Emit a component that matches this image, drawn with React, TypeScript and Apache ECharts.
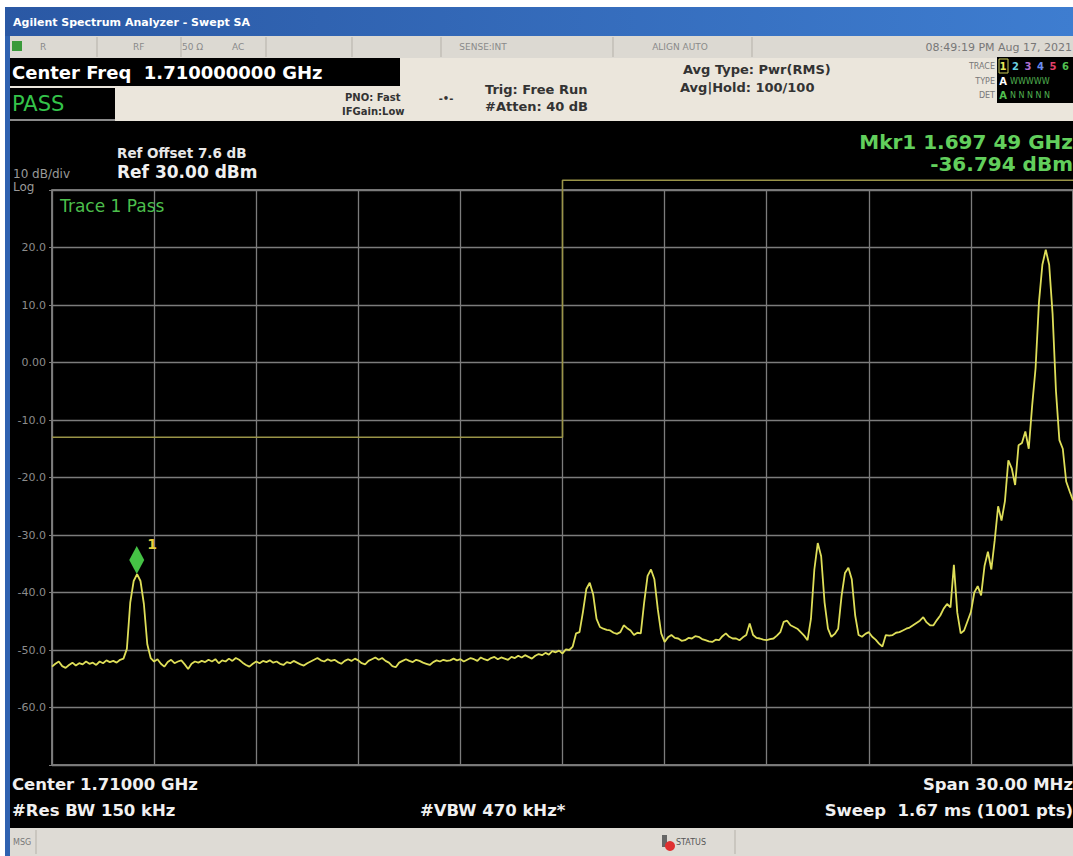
import React, { useEffect, useRef } from 'react';
import * as echarts from 'echarts';

// ---- data ----
const startMHz = 1695; // sweep start
const stepMHz = 0.1; // sample spacing of the trace below
const traceDbm = [
  -52.9, -52.4, -52.0, -52.8, -53.1, -52.6, -52.2, -52.7, -52.3, -52.5,
  -52.0, -52.4, -52.2, -52.6, -52.0, -52.3, -51.8, -52.1, -51.9, -52.2,
  -51.7, -51.5, -49.8, -41.7, -38.0, -36.8, -38.0, -42.0, -49.0, -51.4,
  -52.0, -51.6, -52.4, -52.9, -52.1, -51.7, -52.3, -52.0, -51.8, -52.5,
  -53.3, -52.4, -52.0, -52.2, -51.9, -52.1, -51.7, -52.0, -51.6, -52.3,
  -51.8, -52.0, -51.5, -51.9, -51.4, -51.7, -52.2, -52.6, -52.9, -52.4,
  -52.0, -52.3, -51.9, -52.1, -51.8, -52.2, -52.0, -52.4, -52.6, -52.1,
  -52.3, -51.9, -52.2, -52.5, -52.7, -52.3, -52.0, -51.7, -51.4, -51.8,
  -52.0, -51.6, -51.9, -51.7, -52.1, -52.4, -51.9, -51.6, -51.9, -51.5,
  -51.8, -52.3, -52.5, -51.9, -51.6, -51.3, -51.7, -51.4, -51.9, -52.2,
  -52.8, -53.0, -52.2, -51.9, -51.6, -51.9, -52.1, -51.7, -51.9, -52.2,
  -52.4, -52.6, -52.1, -51.8, -52.0, -51.7, -51.9, -51.8, -51.5, -51.8,
  -51.6, -52.0, -51.7, -51.4, -51.6, -51.9, -51.3, -51.6, -51.8, -51.4,
  -51.2, -51.6, -51.3, -51.5, -51.7, -51.2, -51.4, -51.0, -51.3, -50.9,
  -51.2, -51.5, -51.0, -50.7, -50.9, -50.5, -50.8, -50.2, -50.4, -50.1,
  -50.6, -49.9, -50.0, -49.4, -47.1, -46.9, -43.4, -39.4, -38.3, -40.3,
  -44.6, -46.0, -46.3, -46.5, -46.6, -47.0, -47.2, -46.9, -45.7, -46.2,
  -46.6, -47.4, -47.0, -47.1, -41.7, -37.1, -36.0, -37.7, -42.9, -47.1,
  -48.6, -47.8, -47.4, -47.9, -48.0, -48.4, -48.3, -47.9, -48.0, -47.6,
  -47.7, -48.1, -48.3, -48.5, -48.6, -48.2, -48.3, -47.6, -47.1, -47.7,
  -48.0, -48.0, -48.3, -47.8, -47.4, -45.4, -47.4, -47.9, -48.0, -48.2,
  -48.3, -48.1, -48.0, -47.5, -46.9, -45.1, -44.9, -45.7, -46.0, -46.3,
  -46.9, -47.5, -48.3, -44.6, -36.0, -31.4, -33.7, -41.7, -46.3, -47.7,
  -47.2, -46.3, -40.6, -36.6, -35.7, -37.7, -44.0, -47.4, -47.7, -47.2,
  -46.9, -47.7, -48.2, -48.9, -49.4, -47.4, -47.5, -47.4, -47.0, -46.9,
  -46.6, -46.3, -46.1, -45.7, -45.3, -44.9, -44.3, -45.2, -45.7, -45.7,
  -44.8, -44.0, -42.8, -42.0, -42.6, -35.2, -43.5, -47.1, -46.6, -45.0,
  -43.4, -40.0, -38.9, -40.5, -35.4, -32.9, -36.0, -30.9, -25.0, -27.5,
  -24.1, -17.0, -18.4, -21.3, -14.4, -14.0, -12.0, -15.0, -7.5, -1.0,
  10.5, 17.0, 19.6, 17.0, 8.5, -5.0, -13.5, -15.0, -20.7, -22.4,
  -24.0,
];
const limitFreqMHz = [1695, 1710, 1710, 1725];
const limitDbm = [-13, -13, 31.7, 31.7];
const markerFreqMHz = 1697.49;
const markerDbm = -36.794;
const xMin = 1695;
const xMax = 1725;
const xStep = 3;
const yMin = -70;
const yMax = 30;
const yStep = 10;
const traceNumbers = ['1', '2', '3', '4', '5', '6'];

const FONT = '"DejaVu Sans", sans-serif';

function txt(x: number, y: number, text: string, size: number, fill: string, opts: any = {}) {
  return {
    type: 'text',
    x,
    y,
    z: 100,
    style: {
      text,
      fill,
      fontSize: size,
      fontFamily: FONT,
      fontWeight: opts.bold ? 'bold' : 'normal',
      align: opts.align || 'left',
      verticalAlign: 'middle',
    },
  };
}
function box(x: number, y: number, w: number, h: number, fill: any, z = 90) {
  return { type: 'rect', z, shape: { x, y, width: w, height: h }, style: { fill } };
}
function vline(x: number, y1: number, y2: number, stroke: string) {
  return { type: 'line', z: 95, shape: { x1: x, y1, x2: x, y2 }, style: { stroke, lineWidth: 1 } };
}

export default function App() {
  const ref = useRef<HTMLDivElement>(null);
  useEffect(() => {
    const chart = echarts.init(ref.current!, undefined, { renderer: 'svg' });
    const W = 1073;
    const H = 856;
    const traceColors = ['#e6e65a', '#6ad0e0', '#b070d0', '#6a8cf0', '#e0406a', '#50c050'];
    const graphic: any[] = [
      box(0, 0, W, 7, '#ffffff'),
      box(0, 0, 5, H, '#ffffff'),
      box(5, 7, 5, H - 7, '#2f62b0'),
      box(5, 7, W - 5, 29, new echarts.graphic.LinearGradient(0, 0, 1, 0, [
        { offset: 0, color: '#2a58a4' },
        { offset: 1, color: '#3e7dd0' },
      ])),
      txt(13, 22, 'Agilent Spectrum Analyzer - Swept SA', 11, '#ffffff', { bold: true }),
      // status row
      box(10, 36, W - 10, 22, '#dcd9d2'),
      box(12, 41, 10, 10, '#3a9a3a', 96),
      ...[97, 181, 266, 352, 441, 613, 752].map((x) => vline(x, 37, 57, '#b5b1a9')),
      txt(40, 47, 'R', 9, '#8a8a8a'),
      txt(133, 47, 'RF', 9, '#8a8a8a'),
      txt(182, 47, '50 Ω', 9, '#8a8a8a'),
      txt(232, 47, 'AC', 9, '#8a8a8a'),
      txt(483, 47, 'SENSE:INT', 9, '#8a8a8a', { align: 'center' }),
      txt(680, 47, 'ALIGN AUTO', 9, '#8a8a8a', { align: 'center' }),
      txt(1072, 47, '08:49:19 PM Aug 17, 2021', 11, '#777777', { align: 'right' }),
      // settings panel
      box(10, 58, W - 10, 63, '#ebe6dc'),
      box(10, 58, 390, 28, '#000000', 91),
      txt(12, 72, 'Center Freq  1.710000000 GHz', 18, '#ffffff', { bold: true }),
      box(10, 88, 105, 31, '#000000', 91),
      box(10, 119, 105, 2, '#8a8a8a', 91),
      txt(12, 104, 'PASS', 21, '#34c34a'),
      txt(345, 97, 'PNO: Fast', 10, '#333333', { bold: true }),
      txt(342, 111, 'IFGain:Low', 10, '#333333', { bold: true }),
      txt(446, 98, '-•-', 10, '#333333', { bold: true, align: 'center' }),
      txt(485, 89, 'Trig: Free Run', 13, '#333333', { bold: true }),
      txt(485, 106, '#Atten: 40 dB', 13, '#333333', { bold: true }),
      txt(683, 69, 'Avg Type: Pwr(RMS)', 13, '#333333', { bold: true }),
      txt(680, 87, 'Avg|Hold: 100/100', 13, '#333333', { bold: true }),
      txt(995, 66, 'TRACE', 8, '#777777', { align: 'right' }),
      txt(995, 81, 'TYPE', 8, '#777777', { align: 'right' }),
      txt(995, 95, 'DET', 8, '#777777', { align: 'right' }),
      box(997, 57, 76, 46, '#000000', 91),
      { type: 'rect', z: 97, shape: { x: 999, y: 59, width: 9, height: 14 }, style: { fill: 'none', stroke: '#c8c850', lineWidth: 1 } },
      ...traceNumbers.map((t, k) => txt(1003 + k * 12.5, 66, t, 10, traceColors[k], { bold: true, align: 'center' })),
      txt(1003, 81, 'A', 10, '#ffffff', { bold: true, align: 'center' }),
      txt(1010, 81, 'WWWWW', 8, '#50b050'),
      txt(1003, 95, 'A', 10, '#50c050', { bold: true, align: 'center' }),
      txt(1010, 95, 'N N N N N', 8, '#50b050'),
      // display annotations
      txt(117, 153, 'Ref Offset 7.6 dB', 13.5, '#e8e8e8', { bold: true }),
      txt(117, 172, 'Ref 30.00 dBm', 17, '#f0f0f0', { bold: true }),
      txt(13, 174, '10 dB/div', 12, '#9a9a9a'),
      txt(13, 187, 'Log', 12, '#9a9a9a'),
      txt(60, 206, 'Trace 1 Pass', 17, '#4cbf4c'),
      txt(1073, 142, 'Mkr1 1.697 49 GHz', 20, '#62cf5c', { bold: true, align: 'right' }),
      txt(1073, 164, '-36.794 dBm', 20, '#62cf5c', { bold: true, align: 'right' }),
      txt(12, 784, 'Center 1.71000 GHz', 16.5, '#f0f0f0', { bold: true }),
      txt(12, 810, '#Res BW 150 kHz', 16.5, '#f0f0f0', { bold: true }),
      txt(420, 810, '#VBW 470 kHz*', 16.5, '#f0f0f0', { bold: true }),
      txt(1073, 784, 'Span 30.00 MHz', 16.5, '#f0f0f0', { bold: true, align: 'right' }),
      txt(1073, 810, 'Sweep  1.67 ms (1001 pts)', 16.5, '#f0f0f0', { bold: true, align: 'right' }),
      // bottom status bar
      box(10, 828, W - 10, 28, '#dedbd5'),
      vline(36, 830, 854, '#b5b1a9'),
      txt(13, 842, 'MSG', 8, '#777777'),
      box(662, 835, 5, 12, '#666666', 96),
      { type: 'circle', z: 97, shape: { cx: 670, cy: 846, r: 5 }, style: { fill: '#e03030' } },
      txt(676, 842, 'STATUS', 8, '#555555'),
      vline(735, 830, 854, '#b5b1a9'),
    ];

    const option: any = {
      animation: false,
      backgroundColor: '#000000',
      grid: {
        left: 52,
        top: 190,
        right: -2,
        bottom: 91,
        show: true,
        borderColor: '#9c9c9c',
        borderWidth: 1.5,
        backgroundColor: 'transparent',
      },
      xAxis: {
        type: 'value',
        min: xMin,
        max: xMax,
        interval: xStep,
        axisLabel: { show: false },
        axisTick: { show: false },
        axisLine: { show: false },
        splitLine: { show: true, lineStyle: { color: '#7c7c7c', width: 1.3 } },
      },
      yAxis: {
        type: 'value',
        min: yMin,
        max: yMax,
        interval: yStep,
        axisLine: { show: false },
        axisTick: { show: true, length: 3, lineStyle: { color: '#7c7c7c' } },
        splitLine: { show: true, lineStyle: { color: '#7c7c7c', width: 1.3 } },
        axisLabel: {
          color: '#8c8c8c',
          fontSize: 11,
          fontFamily: FONT,
          margin: 6,
          formatter: (v: number) => (v >= yMax || v <= yMin ? '' : v === 0 ? '0.00' : v.toFixed(1)),
        },
      },
      graphic,
      series: [
        {
          type: 'line',
          name: 'Limit',
          data: limitFreqMHz.map((f, i) => [f, limitDbm[i]]),
          symbol: 'none',
          clip: false,
          z: 4,
          lineStyle: { color: '#9a9448', width: 1.6 },
        },
        {
          type: 'line',
          name: 'Trace 1',
          data: traceDbm.map((v, i) => [+(startMHz + i * stepMHz).toFixed(2), v]),
          symbol: 'none',
          showSymbol: false,
          z: 5,
          lineStyle: { color: '#dede58', width: 1.8 },
          markPoint: {
            symbol: 'diamond',
            symbolSize: [15, 28],
            symbolOffset: [0, -14],
            itemStyle: { color: '#45c245' },
            label: {
              show: true,
              formatter: '1',
              position: [18, -9],
              color: '#e6cf3e',
              fontSize: 14,
              fontWeight: 'bold',
              fontFamily: FONT,
            },
            data: [{ coord: [markerFreqMHz, markerDbm] }],
          },
        },
      ],
    };
    chart.setOption(option);
    return () => chart.dispose();
  }, []);
  return <div ref={ref} style={{ position: 'fixed', left: 0, top: 0, width: 1073, height: 856 }} />;
}
